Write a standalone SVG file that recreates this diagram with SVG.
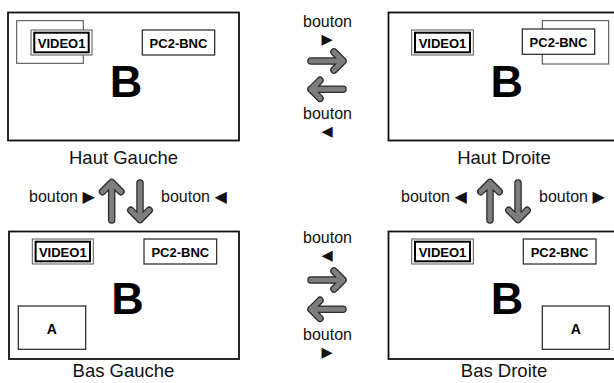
<svg xmlns="http://www.w3.org/2000/svg" width="614" height="383" viewBox="0 0 614 383">
<style>
.panel{fill:#fff;stroke:#111;stroke-width:1.8}
.pip{fill:#fff;stroke:#444;stroke-width:1}
.vo{fill:#fff;stroke:#555;stroke-width:1}
.vi{fill:none;stroke:#000;stroke-width:2}
.pc{fill:#fff;stroke:#222;stroke-width:1.2}
.lbl{font-family:"Liberation Sans",Arial,sans-serif;font-weight:bold;font-size:13px;fill:#000;text-anchor:middle}
.big{font-family:"Liberation Sans",Arial,sans-serif;font-weight:bold;font-size:45px;fill:#000;text-anchor:middle}
.a{font-family:"Liberation Sans",Arial,sans-serif;font-weight:bold;font-size:14px;fill:#000;text-anchor:middle}
.cap{font-family:"Liberation Sans",Arial,sans-serif;font-size:18.5px;fill:#111;text-anchor:middle}
.btn{font-family:"Liberation Sans",Arial,sans-serif;font-size:16px;fill:#111}
.mid{text-anchor:middle}
.tri{font-family:"DejaVu Sans",sans-serif;font-size:16px}
.trs{font-family:"DejaVu Sans",sans-serif;font-size:14.5px;fill:#111;text-anchor:middle}
.ao{fill:none;stroke:#2a2a2a;stroke-width:7.5;stroke-linecap:round;stroke-linejoin:round}
.ai{fill:none;stroke:#7d7d7d;stroke-width:5;stroke-linecap:round;stroke-linejoin:round}
</style>

<g id="haut-gauche">
<rect class="panel" x="8" y="12.5" width="231" height="128"/>
<rect class="pip" x="16.7" y="20.7" width="66.6" height="42.6"/>
<rect class="vo" x="31" y="30" width="61" height="25"/>
<rect class="vi" x="34.3" y="32.7" width="54.4" height="19.6"/>
<text class="lbl" x="61.6" y="47.5">VIDEO1</text>
<rect class="pc" x="142.3" y="30" width="72.4" height="25"/>
<text class="lbl" x="178.5" y="47.5">PC2-BNC</text>
<text class="big" x="126" y="97">B</text>
<text class="cap" x="123.5" y="164">Haut Gauche</text>
</g>

<g id="haut-droite">
<rect class="panel" x="388.5" y="12.5" width="231" height="128"/>
<rect class="pip" x="542.3" y="20.7" width="66.4" height="43.3"/>
<rect class="vo" x="411.7" y="30" width="61.6" height="25"/>
<rect class="vi" x="415" y="32.7" width="55" height="19.6"/>
<text class="lbl" x="442.5" y="47.5">VIDEO1</text>
<rect class="pc" x="522.3" y="29" width="72.4" height="25.3"/>
<text class="lbl" x="558.5" y="46.8">PC2-BNC</text>
<text class="big" x="506.7" y="97">B</text>
<text class="cap" x="504" y="164">Haut Droite</text>
</g>

<g id="bas-gauche">
<rect class="panel" x="9" y="231.5" width="230" height="127.5"/>
<rect class="vo" x="32.3" y="239" width="61" height="25"/>
<rect class="vi" x="35.6" y="241.7" width="54.4" height="19.6"/>
<text class="lbl" x="62.8" y="256.5">VIDEO1</text>
<rect class="pc" x="144" y="239" width="72.7" height="25"/>
<text class="lbl" x="180.3" y="256.5">PC2-BNC</text>
<rect class="pc" x="18.3" y="306" width="67.4" height="43.3"/>
<text class="a" x="51.8" y="333.5">A</text>
<text class="big" x="127.5" y="313.5">B</text>
<text class="cap" x="123.5" y="377">Bas Gauche</text>
</g>

<g id="bas-droite">
<rect class="panel" x="388.5" y="231.5" width="231" height="127.5"/>
<rect class="vo" x="411.7" y="239" width="61.6" height="25"/>
<rect class="vi" x="415" y="241.7" width="55" height="19.6"/>
<text class="lbl" x="442.5" y="256.5">VIDEO1</text>
<rect class="pc" x="523.3" y="239" width="72.7" height="25"/>
<text class="lbl" x="559.6" y="256.5">PC2-BNC</text>
<rect class="pc" x="542.3" y="306" width="67" height="43.3"/>
<text class="a" x="575.8" y="333.5">A</text>
<text class="big" x="507" y="313.5">B</text>
<text class="cap" x="504" y="377">Bas Droite</text>
</g>

<g id="connectors">
<!-- top middle -->
<text class="btn mid" x="327.5" y="26.5">bouton</text>
<text class="trs" x="327" y="43.5">▶</text>
<path class="ao" d="M311,61 H343 M334,52 L343,61 L334,70"/>
<path class="ai" d="M311,61 H343 M334,52 L343,61 L334,70"/>
<path class="ao" d="M343,89.3 H311 M320,80.3 L311,89.3 L320,98.3"/>
<path class="ai" d="M343,89.3 H311 M320,80.3 L311,89.3 L320,98.3"/>
<text class="btn mid" x="327.5" y="119">bouton</text>
<text class="trs" x="327" y="136">◀</text>

<!-- bottom middle -->
<text class="btn mid" x="327.5" y="242.5">bouton</text>
<text class="trs" x="327" y="259.5">◀</text>
<path class="ao" d="M311,280 H343 M334,271 L343,280 L334,289"/>
<path class="ai" d="M311,280 H343 M334,271 L343,280 L334,289"/>
<path class="ao" d="M343,309.3 H311 M320,300.3 L311,309.3 L320,318.3"/>
<path class="ai" d="M343,309.3 H311 M320,300.3 L311,309.3 L320,318.3"/>
<text class="btn mid" x="327.5" y="339.5">bouton</text>
<text class="trs" x="327" y="356.5">▶</text>

<!-- left vertical -->
<text class="btn" x="29" y="202">bouton <tspan class="tri">▶</tspan></text>
<path class="ao" d="M111.7,220 V182.5 M102.5,191.7 L111.7,182.5 L120.9,191.7"/>
<path class="ai" d="M111.7,220 V182.5 M102.5,191.7 L111.7,182.5 L120.9,191.7"/>
<path class="ao" d="M140,183 V219.5 M130.8,210.3 L140,219.5 L149.2,210.3"/>
<path class="ai" d="M140,183 V219.5 M130.8,210.3 L140,219.5 L149.2,210.3"/>
<text class="btn" x="161" y="202">bouton <tspan class="tri">◀</tspan></text>

<!-- right vertical -->
<text class="btn" x="401" y="202">bouton <tspan class="tri">◀</tspan></text>
<path class="ao" d="M490,220 V182.5 M480.8,191.7 L490,182.5 L499.2,191.7"/>
<path class="ai" d="M490,220 V182.5 M480.8,191.7 L490,182.5 L499.2,191.7"/>
<path class="ao" d="M518,183 V219.5 M508.8,210.3 L518,219.5 L527.2,210.3"/>
<path class="ai" d="M518,183 V219.5 M508.8,210.3 L518,219.5 L527.2,210.3"/>
<text class="btn" x="539" y="202">bouton <tspan class="tri">▶</tspan></text>
</g>
</svg>
